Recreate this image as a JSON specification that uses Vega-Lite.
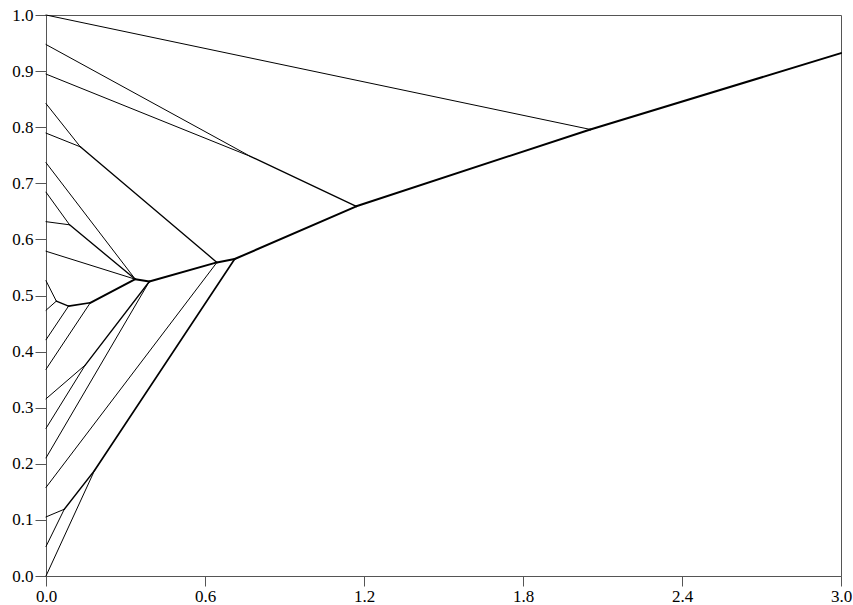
{
  "$schema": "https://vega.github.io/schema/vega-lite/v6.json",
  "width": 795,
  "height": 561,
  "autosize": {"type": "none"},
  "padding": {"left": 46, "top": 15, "right": 12, "bottom": 29},
  "background": "white",
  "config": {
    "view": {"stroke": "#555", "strokeWidth": 1},
    "axis": {
      "grid": false,
      "domainColor": "#555",
      "tickColor": "#555",
      "labelFont": "'Liberation Serif', 'Times New Roman', Times, serif",
      "labelFontSize": 17,
      "labelColor": "black",
      "labelPadding": 2,
      "labelFlush": false,
      "labelOverlap": false,
      "title": null
    }
  },
  "data": {
    "values": [
      {"x": 0, "y": 0, "x2": 0.183, "y2": 0.188, "mass": 1},
      {"x": 0, "y": 0.0526, "x2": 0.069, "y2": 0.119, "mass": 1},
      {"x": 0, "y": 0.1053, "x2": 0.069, "y2": 0.119, "mass": 1},
      {"x": 0.069, "y": 0.119, "x2": 0.183, "y2": 0.188, "mass": 2},
      {"x": 0.183, "y": 0.188, "x2": 0.712, "y2": 0.565, "mass": 3},
      {"x": 0, "y": 0.1579, "x2": 0.645, "y2": 0.559, "mass": 1},
      {"x": 0, "y": 0.2105, "x2": 0.39, "y2": 0.525, "mass": 1},
      {"x": 0, "y": 0.2632, "x2": 0.148, "y2": 0.376, "mass": 1},
      {"x": 0, "y": 0.3158, "x2": 0.148, "y2": 0.376, "mass": 1},
      {"x": 0.148, "y": 0.376, "x2": 0.39, "y2": 0.525, "mass": 2},
      {"x": 0, "y": 0.3684, "x2": 0.167, "y2": 0.487, "mass": 1},
      {"x": 0, "y": 0.4211, "x2": 0.085, "y2": 0.481, "mass": 1},
      {"x": 0, "y": 0.4737, "x2": 0.039, "y2": 0.49, "mass": 1},
      {"x": 0, "y": 0.5263, "x2": 0.039, "y2": 0.49, "mass": 1},
      {"x": 0.039, "y": 0.49, "x2": 0.085, "y2": 0.481, "mass": 2},
      {"x": 0.085, "y": 0.481, "x2": 0.167, "y2": 0.487, "mass": 3},
      {"x": 0.167, "y": 0.487, "x2": 0.337, "y2": 0.529, "mass": 4},
      {"x": 0, "y": 0.5789, "x2": 0.337, "y2": 0.529, "mass": 1},
      {"x": 0, "y": 0.6316, "x2": 0.089, "y2": 0.626, "mass": 1},
      {"x": 0, "y": 0.6842, "x2": 0.089, "y2": 0.626, "mass": 1},
      {"x": 0.089, "y": 0.626, "x2": 0.337, "y2": 0.529, "mass": 2},
      {"x": 0, "y": 0.7368, "x2": 0.337, "y2": 0.529, "mass": 1},
      {"x": 0.337, "y": 0.529, "x2": 0.39, "y2": 0.525, "mass": 8},
      {"x": 0.39, "y": 0.525, "x2": 0.645, "y2": 0.559, "mass": 11},
      {"x": 0, "y": 0.7895, "x2": 0.1295, "y2": 0.765, "mass": 1},
      {"x": 0, "y": 0.8421, "x2": 0.1295, "y2": 0.765, "mass": 1},
      {"x": 0.1295, "y": 0.765, "x2": 0.645, "y2": 0.559, "mass": 2},
      {"x": 0.645, "y": 0.559, "x2": 0.712, "y2": 0.565, "mass": 14},
      {"x": 0.712, "y": 0.565, "x2": 1.171, "y2": 0.659, "mass": 17},
      {"x": 0, "y": 0.8947, "x2": 0.771, "y2": 0.748, "mass": 1},
      {"x": 0, "y": 0.9474, "x2": 0.771, "y2": 0.748, "mass": 1},
      {"x": 0.771, "y": 0.748, "x2": 1.171, "y2": 0.659, "mass": 2},
      {"x": 1.171, "y": 0.659, "x2": 2.054, "y2": 0.796, "mass": 19},
      {"x": 0, "y": 1.0, "x2": 2.054, "y2": 0.796, "mass": 1},
      {"x": 2.054, "y": 0.796, "x2": 3.0, "y2": 0.932, "mass": 20}
    ]
  },
  "mark": {"type": "rule", "color": "black", "strokeCap": "round"},
  "encoding": {
    "x": {
      "field": "x", "type": "quantitative",
      "scale": {"domain": [0, 3], "nice": false},
      "axis": {"values": [0, 0.6, 1.2, 1.8, 2.4, 3.0], "format": ".1f", "tickSize": 10}
    },
    "y": {
      "field": "y", "type": "quantitative",
      "scale": {"domain": [0, 1], "nice": false},
      "axis": {"values": [0, 0.1, 0.2, 0.3, 0.4, 0.5, 0.6, 0.7, 0.8, 0.9, 1.0], "format": ".1f", "tickSize": 11}
    },
    "x2": {"field": "x2"},
    "y2": {"field": "y2"},
    "strokeWidth": {
      "field": "mass", "type": "quantitative",
      "scale": {"domain": [1, 4], "range": [1, 2], "clamp": true},
      "legend": null
    }
  }
}
